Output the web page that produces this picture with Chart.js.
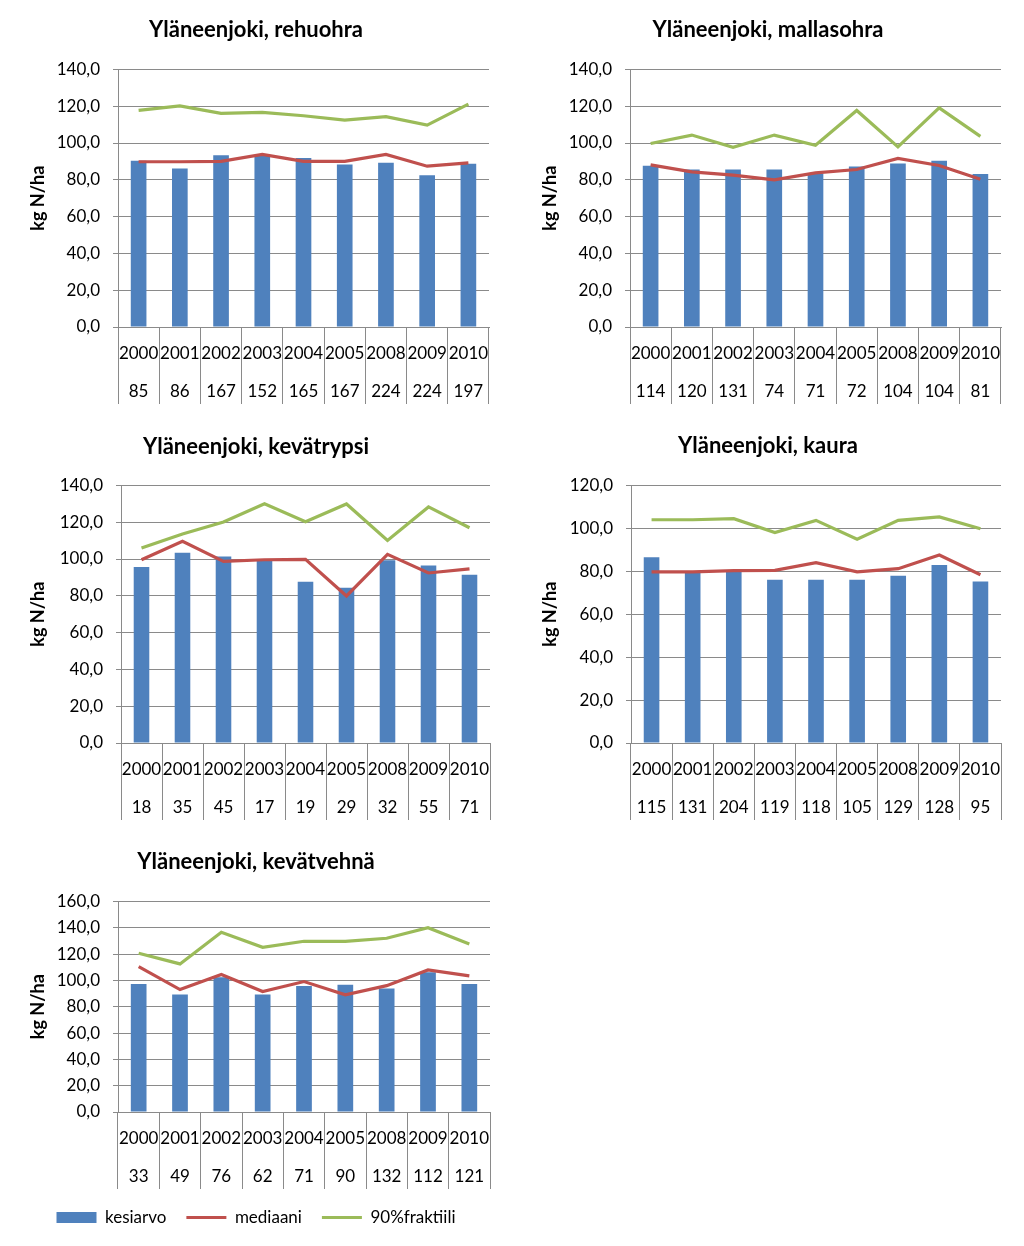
<!DOCTYPE html>
<html>
<head>
<meta charset="utf-8">
<script src="https://cdn.jsdelivr.net/npm/chart.js@4/dist/chart.umd.min.js"></script>
<style>
    body { margin: 0; background: #fff; }
    #sivu { position: relative; width: 1024px; height: 1246px; }
    canvas { position: absolute; }
</style>
</head>
<body>
<div id="sivu">
    <canvas id="rehuohra" width="512" height="410" style="left:0;top:0"></canvas>
    <canvas id="mallasohra" width="512" height="410" style="left:512px;top:0"></canvas>
    <canvas id="kevatrypsi" width="512" height="410" style="left:0;top:420px"></canvas>
    <canvas id="kaura" width="512" height="410" style="left:512px;top:420px"></canvas>
    <canvas id="kevatvehna" width="512" height="416" style="left:0;top:830px"></canvas>
</div>
<script>
const vuodet = ['2000', '2001', '2002', '2003', '2004', '2005', '2008', '2009', '2010'];

// rehuohra
const rehuN = [85, 86, 167, 152, 165, 167, 224, 224, 197];
const rehuKa = [90.3, 86.1, 93.4, 93.0, 91.8, 88.3, 89.2, 82.5, 88.7];
const rehuMed = [89.8, 89.8, 90.0, 93.8, 90.0, 90.0, 93.8, 87.4, 89.2];
const rehuF90 = [117.7, 120.2, 116.1, 116.6, 114.8, 112.4, 114.3, 109.7, 121.1];

// mallasohra
const mallasN = [114, 120, 131, 74, 71, 72, 104, 104, 81];
const mallasKa = [87.6, 85.6, 85.6, 85.6, 83.4, 87.2, 88.9, 90.3, 83.1];
const mallasMed = [88.1, 84.3, 82.5, 80.0, 83.8, 85.6, 91.6, 87.8, 80.3];
const mallasF90 = [99.7, 104.3, 97.7, 104.3, 98.8, 117.7, 97.9, 119.1, 103.6];

// kevätrypsi
const rypsiN = [18, 35, 45, 17, 19, 29, 32, 55, 71];
const rypsiKa = [95.6, 103.4, 101.4, 99.6, 87.7, 84.4, 99.3, 96.5, 91.5];
const rypsiMed = [99.6, 109.6, 98.7, 99.6, 99.8, 79.9, 102.5, 92.4, 94.6];
const rypsiF90 = [106.0, 113.6, 120.1, 130.0, 120.3, 129.9, 110.1, 128.3, 117.0];

// kaura
const kauraN = [115, 131, 204, 119, 118, 105, 129, 128, 95];
const kauraKa = [86.5, 79.7, 80.1, 76.1, 76.1, 76.1, 77.9, 82.9, 75.2];
const kauraMed = [79.7, 79.7, 80.3, 80.4, 84.0, 79.7, 81.2, 87.6, 78.4];
const kauraF90 = [104.0, 104.0, 104.5, 98.0, 103.7, 94.9, 103.7, 105.3, 99.8];

// kevätvehnä
const vehnaN = [33, 49, 76, 62, 71, 90, 132, 112, 121];
const vehnaKa = [97.3, 89.2, 102.4, 89.2, 95.8, 96.6, 93.8, 106.2, 97.3];
const vehnaMed = [110.5, 93.0, 104.4, 91.5, 99.1, 89.0, 96.0, 107.9, 103.4];
const vehnaF90 = [120.6, 112.5, 136.5, 125.1, 129.7, 129.7, 132.0, 140.0, 127.7];

const sarjat = ['kesiarvo', 'mediaani', '90%fraktiili'];

const fontti = 'Lato, "Liberation Sans", sans-serif';
const harmaa = '#8a8a8a';

function createGrafica(id, otsikko, n, ka, med, f90, yMax, as, legenda) {
    const data = {
        labels: vuodet.map(function (v, i) { return [v, String(n[i])]; }),
        datasets: [{
            type: 'bar',
            label: sarjat[0],
            data: ka,
            backgroundColor: '#4F81BD',
            barPercentage: 0.38,
            categoryPercentage: 1,
            order: 3
        }, {
            type: 'line',
            label: sarjat[1],
            data: med,
            borderColor: '#C0504D',
            backgroundColor: '#C0504D',
            borderWidth: 3.2,
            pointRadius: 0,
            tension: 0,
            order: 2
        }, {
            type: 'line',
            label: sarjat[2],
            data: f90,
            borderColor: '#9BBB59',
            backgroundColor: '#9BBB59',
            borderWidth: 3.2,
            pointRadius: 0,
            tension: 0,
            order: 1
        }]
    };

    // sama reunus molemmilla puolilla, jotta otsikko ja selite ovat keskellä
    const reunus = as.oikea;

    const opciones = {
        responsive: false,
        animation: false,
        layout: {
            padding: { left: reunus, right: reunus, top: 0, bottom: as.ala }
        },
        plugins: {
            title: {
                display: true,
                text: otsikko,
                color: '#000',
                font: { family: fontti, size: 22, weight: 'bold' },
                padding: { top: as.otsYla, bottom: as.otsAla }
            },
            legend: {
                display: legenda,
                position: 'bottom',
                labels: {
                    color: '#000',
                    font: { family: fontti, size: 17 },
                    usePointStyle: true,
                    pointStyleWidth: 40,
                    boxHeight: 11,
                    padding: 20,
                    generateLabels: function (chart) {
                        const items = Chart.defaults.plugins.legend.labels.generateLabels(chart);
                        items.sort(function (a, b) { return a.datasetIndex - b.datasetIndex; });
                        items.forEach(function (item) {
                            item.pointStyle = item.datasetIndex === 0 ? 'rect' : 'line';
                        });
                        return items;
                    }
                }
            },
            tooltip: { enabled: false }
        },
        scales: {
            x: {
                grid: {
                    offset: true,
                    drawOnChartArea: false,
                    drawTicks: true,
                    tickLength: 77,
                    color: harmaa
                },
                border: { display: true, color: harmaa },
                ticks: {
                    color: '#000',
                    font: { family: fontti, size: 17, lineHeight: 2.24 },
                    padding: -70,
                    maxRotation: 0,
                    autoSkip: false
                },
                afterFit: function (scale) { scale.height = 77; }
            },
            y: {
                min: 0,
                max: yMax,
                ticks: {
                    stepSize: 20,
                    color: '#000',
                    font: { family: fontti, size: 17 },
                    padding: 13,
                    callback: function (v) { return v.toFixed(1).replace('.', ','); }
                },
                grid: { color: harmaa, tickLength: 5 },
                border: { display: true, color: harmaa },
                title: {
                    display: true,
                    text: 'kg N/ha',
                    color: '#000',
                    font: { family: fontti, size: 18, weight: 'bold' },
                    padding: { top: 27 - reunus, bottom: 0 }
                },
                afterFit: function (scale) { scale.width = as.vasen - reunus; }
            }
        }
    };

    new Chart(document.getElementById(id), { type: 'bar', data: data, options: opciones });
}

createGrafica('rehuohra', 'Yläneenjoki, rehuohra', rehuN, rehuKa, rehuMed, rehuF90, 140,
    { vasen: 118, oikea: 23, ala: 6, otsYla: 17, otsAla: 26 }, false);
createGrafica('mallasohra', 'Yläneenjoki, mallasohra', mallasN, mallasKa, mallasMed, mallasF90, 140,
    { vasen: 118, oikea: 23, ala: 6, otsYla: 17, otsAla: 26 }, false);
createGrafica('kevatrypsi', 'Yläneenjoki, kevätrypsi', rypsiN, rypsiKa, rypsiMed, rypsiF90, 140,
    { vasen: 121, oikea: 22, ala: 10, otsYla: 14, otsAla: 25 }, false);
createGrafica('kaura', 'Yläneenjoki, kaura', kauraN, kauraKa, kauraMed, kauraF90, 120,
    { vasen: 119, oikea: 23, ala: 10, otsYla: 13, otsAla: 26 }, false);
createGrafica('kevatvehna', 'Yläneenjoki, kevätvehnä', vehnaN, vehnaKa, vehnaMed, vehnaF90, 160,
    { vasen: 118, oikea: 22, ala: 10, otsYla: 19, otsAla: 26 }, true);
</script>
</body>
</html>
